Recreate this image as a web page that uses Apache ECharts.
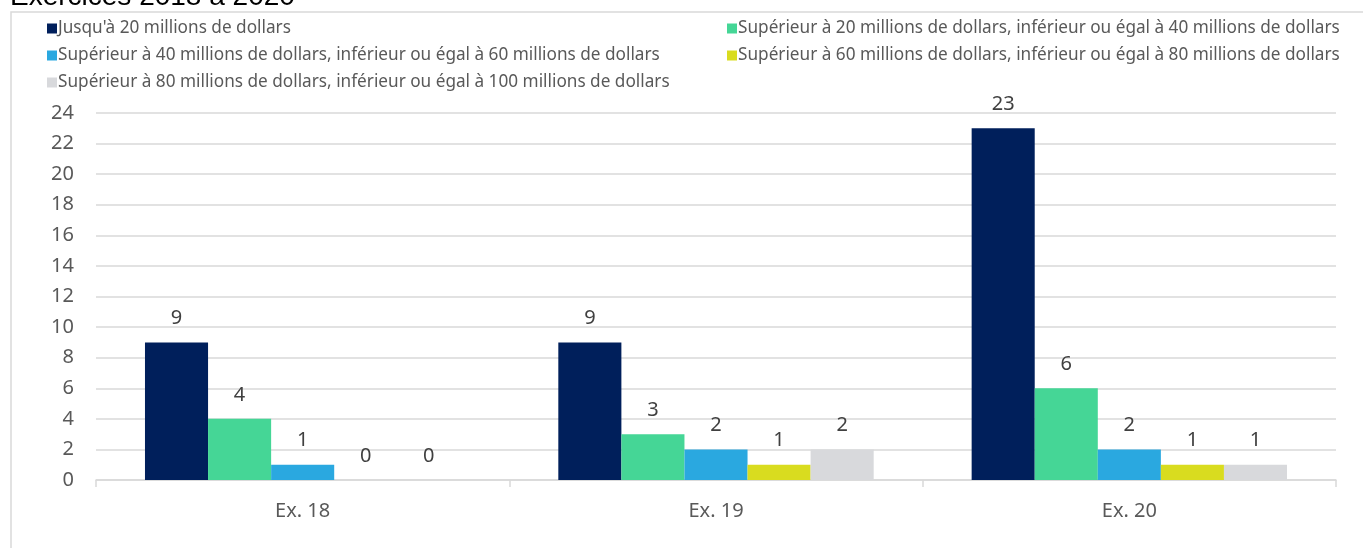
<!DOCTYPE html>
<html><head><meta charset="utf-8">
<script src="https://cdn.jsdelivr.net/npm/echarts@6/dist/echarts.min.js"></script>
<style>html,body{margin:0;padding:0;background:#fff}#c{width:1363px;height:548px}</style>
</head><body><div id="c"></div>
<script>
const categories = ['Ex. 18', 'Ex. 19', 'Ex. 20'];
const seriesNames = [
  "Jusqu'à 20 millions de dollars",
  "Supérieur à 20 millions de dollars, inférieur ou égal à 40 millions de dollars",
  "Supérieur à 40 millions de dollars, inférieur ou égal à 60 millions de dollars",
  "Supérieur à 60 millions de dollars, inférieur ou égal à 80 millions de dollars",
  "Supérieur à 80 millions de dollars, inférieur ou égal à 100 millions de dollars"
];
const s1 = [9, 9, 23];
const s2 = [4, 3, 6];
const s3 = [1, 2, 2];
const s4 = [0, 1, 1];
const s5 = [0, 2, 1];
const colors = ['#001F5B', '#45D696', '#2AA8E0', '#D9DC1F', '#D8D9DC'];
const titleText = 'Exercices 2018 à 2020';

const FONT = 'Noto Sans';
const chart = echarts.init(document.getElementById('c'));
const values = [s1, s2, s3, s4, s5];
const legendCommon = {
  orient: 'vertical', icon: 'rect', itemWidth: 10, itemHeight: 10, itemGap: 10, padding: 0,
  textStyle: { fontFamily: FONT, fontSize: 17.2, color: '#595959', lineHeight: 17, padding: [0, 0, 0, -4] },
  selectedMode: false
};
chart.setOption({
  animation: false,
  textStyle: { fontFamily: FONT },
  graphic: [
    { type: 'rect', shape: { x: 11, y: 12, width: 1400, height: 600 }, style: { fill: 'none', stroke: '#d9d9d9', lineWidth: 1.5 }, silent: true },
    { type: 'text', x: 10, y: 11, style: { text: titleText, font: '28px "Liberation Sans"', fill: '#000', textVerticalAlign: 'bottom', verticalAlign: 'bottom' }, silent: true }
  ],
  legend: [
    Object.assign({ left: 47, top: 20, data: [seriesNames[0], seriesNames[2], seriesNames[4]] }, legendCommon),
    Object.assign({ left: 727, top: 20, data: [seriesNames[1], seriesNames[3]] }, legendCommon)
  ],
  grid: { left: 96, right: 27, top: 113, bottom: 68 },
  xAxis: {
    type: 'category', data: categories,
    axisLine: { lineStyle: { color: '#d9d9d9', width: 1.5 } },
    axisTick: { show: true, length: 7, lineStyle: { color: '#d9d9d9', width: 1.5 } },
    axisLabel: { color: '#595959', fontSize: 20, fontFamily: FONT, margin: 21 }
  },
  yAxis: {
    type: 'value', min: 0, max: 24, interval: 2,
    axisLine: { show: false }, axisTick: { show: false },
    splitLine: { lineStyle: { color: '#d9d9d9', width: 1.5 } },
    axisLabel: { color: '#595959', fontSize: 20, fontFamily: FONT, margin: 22 }
  },
  series: values.map((v, i) => ({
    name: seriesNames[i], type: 'bar', data: v,
    barGap: 0, barCategoryGap: '23.7%',
    itemStyle: { color: colors[i] },
    label: { show: true, position: 'top', distance: 14, color: '#404040', fontSize: 20, fontFamily: FONT }
  }))
});
</script></body></html>
